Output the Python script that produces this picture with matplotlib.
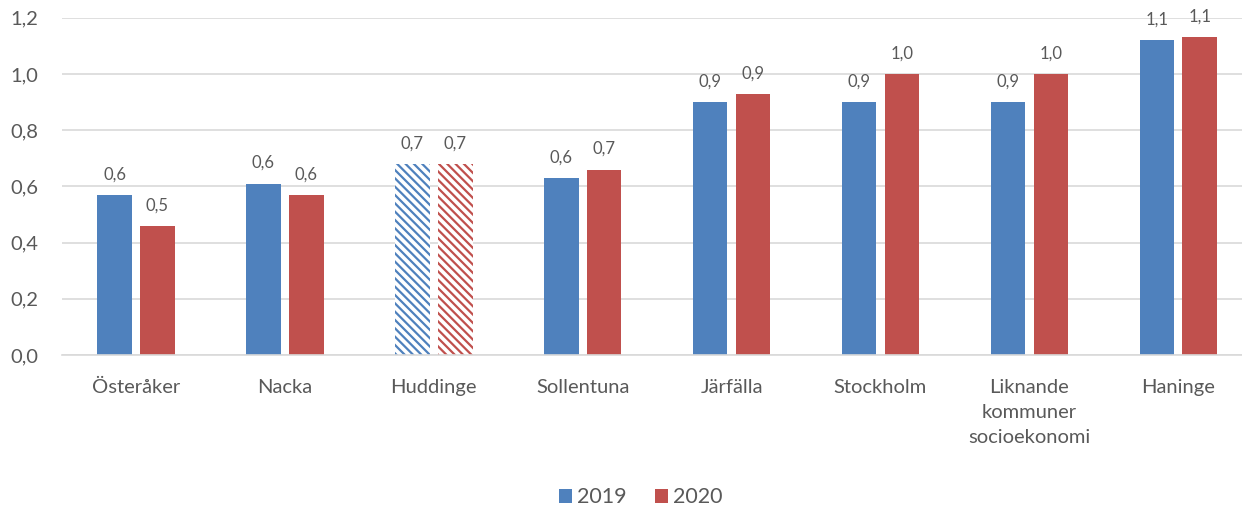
import numpy as np
import matplotlib.pyplot as plt

# Kommuner och värden per år
kommuner = ["Österåker", "Nacka", "Huddinge", "Sollentuna", "Järfälla",
            "Stockholm", "Liknande\nkommuner\nsocioekonomi", "Haninge"]
varden_2019 = [0.57, 0.61, 0.68, 0.63, 0.90, 0.90, 0.90, 1.12]
varden_2020 = [0.46, 0.57, 0.68, 0.66, 0.93, 1.00, 1.00, 1.13]
randade = ["Huddinge"]  # egen kommun, visas randig

BLA = "#4F81BD"
ROD = "#C0504D"
GRA = "#595959"

plt.rcParams["font.family"] = ["Lato", "DejaVu Sans"]
plt.rcParams["hatch.linewidth"] = 1.6

fig = plt.figure(figsize=(12.42, 5.09), dpi=100)
ax = fig.add_axes([0.0496, 0.3026, 0.959, 0.6624])

x = np.arange(len(kommuner))
w = 0.232
off = 0.144


def rita(xpos, vals, farg, lbl):
    for xi, v, namn in zip(xpos, vals, kommuner):
        if namn in randade:
            ax.bar(xi, v, w, facecolor="white", edgecolor=farg, linewidth=0,
                   hatch="\\\\\\\\", zorder=2)
        else:
            ax.bar(xi, v, w, color=farg, zorder=2)
        ax.annotate(f"{v:.1f}".replace(".", ","), (xi, v), xytext=(0, 9),
                    textcoords="offset points", ha="center", va="bottom",
                    fontsize=12, color=GRA)
    # legendpost
    ax.bar([0], [0], 0, color=farg, label=lbl)


rita(x - off, varden_2019, BLA, "2019")
rita(x + off, varden_2020, ROD, "2020")

ax.set_xlim(-0.5, len(kommuner) - 0.5)
ax.set_ylim(0, 1.2)
ax.set_yticks(np.arange(0, 1.21, 0.2))
ax.set_yticklabels([f"{t:.1f}".replace(".", ",") for t in np.arange(0, 1.21, 0.2)])
ax.set_xticks(x)
ax.set_xticklabels(kommuner, linespacing=1.6, va="top")
ax.tick_params(axis="both", length=0, labelsize=14.5, colors=GRA)
ax.tick_params(axis="x", pad=17)
ax.tick_params(axis="y", pad=17)

ax.grid(axis="y", color="#D9D9D9", linewidth=1.2, zorder=0)
for s in ["top", "right", "left"]:
    ax.spines[s].set_visible(False)
ax.spines["bottom"].set_color("#D9D9D9")
ax.spines["bottom"].set_linewidth(1.2)

leg = fig.legend(loc="center", bbox_to_anchor=(0.516, 0.023), ncol=2,
                 frameon=False, fontsize=15.5, handlelength=0.6,
                 handleheight=0.6, handletextpad=0.25, columnspacing=1.3)
for t in leg.get_texts():
    t.set_color(GRA)

fig.savefig("out.png", dpi=100)
